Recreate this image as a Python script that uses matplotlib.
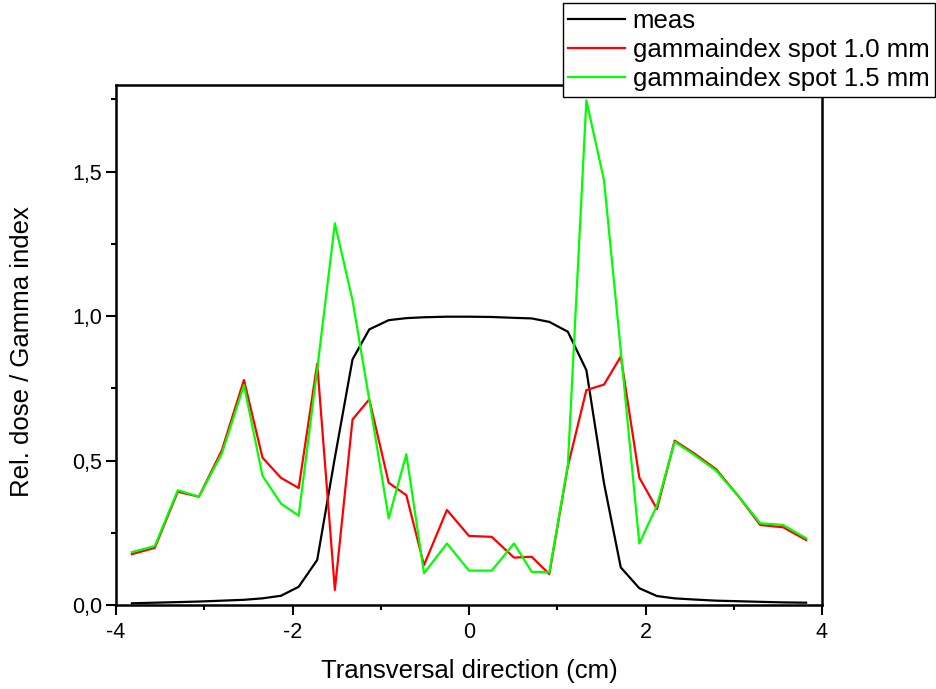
import matplotlib
matplotlib.use("Agg")
import matplotlib.pyplot as plt
from matplotlib.ticker import MultipleLocator, FuncFormatter

plt.rcParams['font.family'] = ['Liberation Sans', 'DejaVu Sans']

x = [-3.82, -3.56, -3.30, -3.06, -2.80, -2.55, -2.34, -2.13, -1.93, -1.72,
     -1.52, -1.32, -1.13, -0.91, -0.71, -0.51, -0.25, 0.0, 0.257, 0.51,
     0.71, 0.91, 1.12, 1.33, 1.53, 1.72, 1.93, 2.13, 2.33, 2.55,
     2.80, 3.06, 3.30, 3.56, 3.82]

meas = [0.006, 0.008, 0.010, 0.012, 0.015, 0.018, 0.023, 0.032, 0.063, 0.156,
        0.51, 0.85, 0.954, 0.986, 0.993, 0.996, 0.998, 0.998, 0.997, 0.994,
        0.992, 0.980, 0.946, 0.813, 0.421, 0.130, 0.058, 0.031, 0.023, 0.019,
        0.015, 0.013, 0.011, 0.009, 0.008]

gamma_10 = [0.176, 0.198, 0.392, 0.375, 0.536, 0.779, 0.510, 0.440, 0.405, 0.835,
            0.052, 0.642, 0.712, 0.423, 0.380, 0.138, 0.329, 0.239, 0.236, 0.164,
            0.167, 0.107, 0.480, 0.744, 0.763, 0.860, 0.441, 0.332, 0.569, 0.525,
            0.470, 0.374, 0.277, 0.269, 0.225]

gamma_15 = [0.183, 0.204, 0.397, 0.375, 0.525, 0.761, 0.447, 0.351, 0.309, 0.816,
            1.321, 1.055, 0.710, 0.300, 0.522, 0.110, 0.213, 0.119, 0.119, 0.213,
            0.115, 0.113, 0.484, 1.747, 1.470, 0.880, 0.213, 0.345, 0.565, 0.520,
            0.465, 0.374, 0.283, 0.277, 0.231]

labels = ["meas", "gammaindex spot 1.0 mm", "gammaindex spot 1.5 mm"]

fig = plt.figure(figsize=(9.36, 6.89), dpi=100)
ax = fig.add_axes([116/936, 1 - 605/689, (822-116)/936, (605-85)/689])

l1, = ax.plot(x, meas, color='black', lw=1.6)
l2, = ax.plot(x, gamma_10, color='#ff0000', lw=1.6)
l3, = ax.plot(x, gamma_15, color='#00ff00', lw=1.6)

ax.set_xlim(-4, 4)
ax.set_ylim(0, 1.8)
ax.xaxis.set_major_locator(MultipleLocator(2))
ax.xaxis.set_minor_locator(MultipleLocator(1))
ax.yaxis.set_major_locator(MultipleLocator(0.5))
ax.yaxis.set_minor_locator(MultipleLocator(0.25))
ax.yaxis.set_major_formatter(FuncFormatter(lambda v, p: f"{v:.1f}".replace('.', ',')))
ax.xaxis.set_major_formatter(FuncFormatter(lambda v, p: f"{v:.0f}" if v != 0 else "0"))

for s in ax.spines.values():
    s.set_linewidth(1.8)
ax.tick_params(which='major', direction='out', length=7, width=1.5, labelsize=15.5, pad=3)
ax.tick_params(which='minor', direction='out', length=3.8, width=1.5)
ax.tick_params(axis='x', which='major', pad=5)

fig.text(469/936, 1 - 671/689, "Transversal direction (cm)", fontsize=18.5,
         ha='center', va='center')
fig.text(22/936, 1 - 352/689, "Rel. dose / Gamma index", fontsize=18.5,
         ha='center', va='center', rotation=90)

leg = fig.legend([l1, l2, l3], labels, loc='upper right',
                 bbox_to_anchor=(935/936, 1 - 3/689), fontsize=18.5,
                 frameon=True, fancybox=False, shadow=False,
                 handlelength=2.2, handletextpad=0.3, labelspacing=0.2,
                 borderpad=0.22, borderaxespad=0)
leg.get_frame().set_edgecolor('black')
leg.get_frame().set_linewidth(1.0)
leg.get_frame().set_alpha(1.0)
leg.set_zorder(10)

fig.savefig("out.png", dpi=100)
